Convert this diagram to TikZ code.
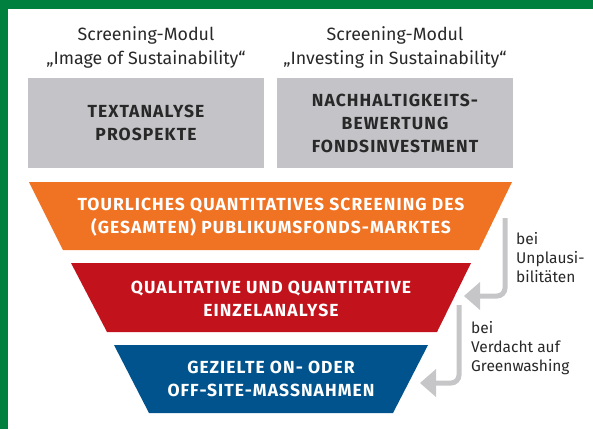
\documentclass[tikz,border=0pt]{standalone}
\usepackage{fontspec}
\setmainfont{Fira Sans}[BoldFont={Fira Sans Bold}]
\newfontfamily\capsfont{Fira Sans Bold}[LetterSpace=6]
\usetikzlibrary{arrows.meta}
\definecolor{frame}{RGB}{0,128,63}
\definecolor{boxgray}{RGB}{196,195,199}
\definecolor{arrowgray}{RGB}{198,198,201}
\definecolor{txt}{RGB}{40,40,40}
\definecolor{org}{RGB}{240,114,35}
\definecolor{rd}{RGB}{194,18,27}
\definecolor{bl}{RGB}{0,83,140}
\begin{document}
\begin{tikzpicture}[x=1pt,y=-1pt,
 modlabel/.style={align=center,font=\fontsize{17.8}{24}\selectfont,text=txt,inner sep=0},
 graybox/.style={fill=boxgray,minimum width=236,minimum height=90,inner sep=0,align=center,font=\capsfont\fontsize{17.5}{23}\selectfont,text=txt},
 stagetext/.style={align=center,font=\capsfont\fontsize{17.5}{23}\selectfont,text=white,inner sep=0},
 sidetext/.style={align=left,font=\fontsize{15.5}{19}\selectfont,text=txt,inner sep=0,anchor=north west},
 loop/.style={draw=arrowgray,line width=5pt,rounded corners=8pt,-{Triangle[length=16pt,width=28pt,line width=0pt]}},
]
\useasboundingbox (0,0) rectangle (593,429);
\fill[frame] (0,0) rectangle (593,9);
\fill[frame] (0,0) rectangle (7.5,429);

\node[modlabel] (m1) at (146,47) {Screening-Modul\\„Image of Sustainability“};
\node[modlabel] (m2) at (395,47) {Screening-Modul\\„Investing in Sustainability“};

\node[graybox] (b1) at (146,123) {TEXTANALYSE\\PROSPEKTE};
\node[graybox] (b2) at (395,123) {NACHHALTIGKEITS-\\BEWERTUNG\\FONDSINVESTMENT};

\fill[org] (29,182) -- (512,182) -- (479,250) -- (63,250) -- cycle;
\fill[rd] (71,263) -- (471,263) -- (437,332) -- (107,332) -- cycle;
\fill[bl] (114,345) -- (428,345) -- (393,413) -- (149,413) -- cycle;

\node[stagetext] (s1) at (271,217) {TOURLICHES QUANTITATIVES SCREENING DES\\(GESAMTEN) PUBLIKUMSFONDS-MARKTES};
\node[stagetext] (s2) at (271,299) {QUALITATIVE UND QUANTITATIVE\\EINZELANALYSE};
\node[stagetext] (s3) at (271,379) {GEZIELTE ON- ODER\\OFF-SITE-MASSNAHMEN};

\coordinate (u1) at (505,218);
\coordinate (u2) at (464,296);
\draw[loop] (u1) |- (u2);
\coordinate (v1) at (459,305);
\coordinate (v2) at (420,383);
\draw[loop] (v1) |- (v2);

\node[sidetext] (t1) at (516,232) {bei\\Unplausi-\\bilitäten};
\node[sidetext] (t2) at (471,321) {bei\\Verdacht auf\\Greenwashing};
\end{tikzpicture}
\end{document}
